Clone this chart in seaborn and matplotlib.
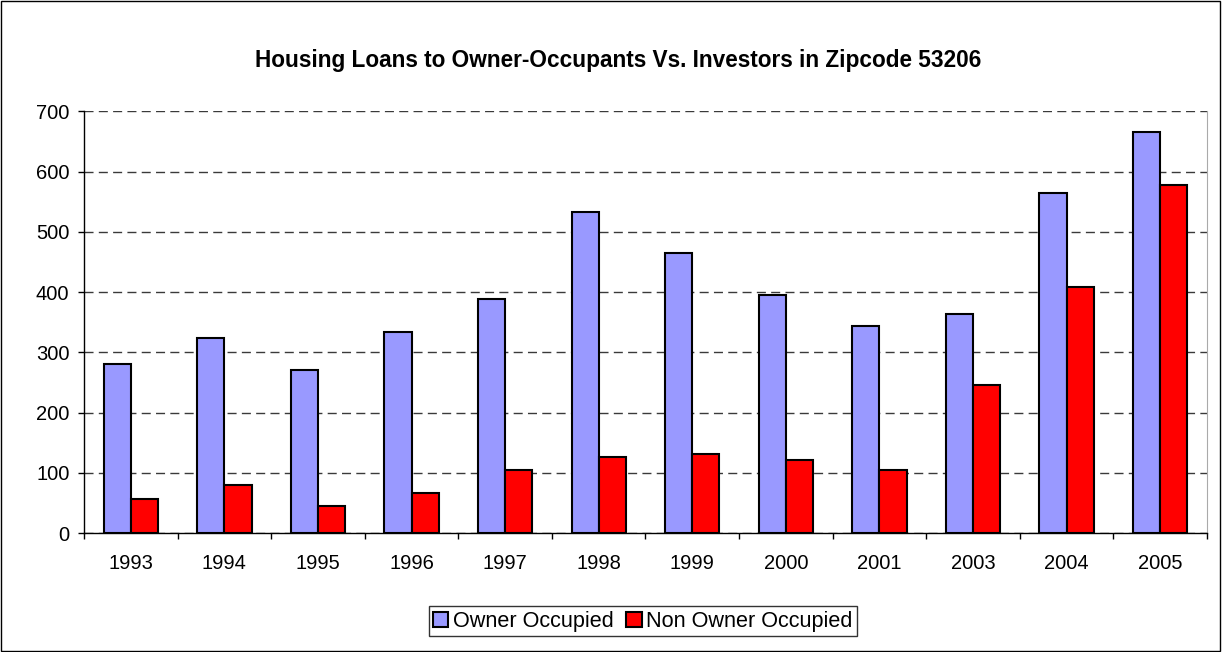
import pandas as pd
import seaborn as sns
import matplotlib.pyplot as plt
from matplotlib.patches import Rectangle
from matplotlib.ticker import FixedLocator

years = ['1993', '1994', '1995', '1996', '1997', '1998', '1999', '2000',
         '2001', '2003', '2004', '2005']
owner = [280, 324, 271, 333, 389, 533, 465, 396, 344, 364, 564, 666]
non_owner = [56, 79, 45, 66, 105, 127, 131, 122, 105, 246, 408, 578]
series = ['Owner Occupied', 'Non Owner Occupied']
colors = ['#9999ff', '#ff0000']

df = pd.DataFrame({
    'year': years * 2,
    'loans': owner + non_owner,
    'type': [series[0]] * len(years) + [series[1]] * len(years),
})

sns.set_style('white')
plt.rcParams['font.family'] = ['Liberation Sans', 'DejaVu Sans']
plt.rcParams['text.color'] = 'black'
plt.rcParams['xtick.color'] = 'black'
plt.rcParams['ytick.color'] = 'black'

fig = plt.figure(figsize=(12.22, 6.52), dpi=100)
ax = fig.add_axes([84 / 1222, 0.1825, 1123 / 1222, 0.6465])

sns.barplot(data=df, x='year', y='loans', hue='type', palette=colors,
            saturation=1, width=0.58, edgecolor='black', linewidth=1.5,
            ax=ax, legend=True)

ax.set_ylim(0, 700)
ax.set_xlim(-0.5, len(years) - 0.5)
ax.set_yticks(range(0, 701, 100))
ax.yaxis.grid(True, linestyle=(0, (6.5, 3.8)), color='#3a3a3a', linewidth=1)
ax.set_axisbelow(True)
ax.set_xlabel('')
ax.set_ylabel('')

ax.tick_params(axis='x', which='major', length=0, labelsize=14.5, pad=15,
               labelcolor='black')
ax.tick_params(axis='y', which='major', length=4.5, width=1, direction='out',
               labelsize=14.5, left=True, color='black', pad=6, labelcolor='black')
ax.xaxis.set_minor_locator(FixedLocator([i - 0.5 for i in range(len(years) + 1)]))
ax.tick_params(axis='x', which='minor', length=4.5, width=1, direction='out',
               bottom=True, color='black')

for s in ['left', 'bottom']:
    ax.spines[s].set_color('black')
    ax.spines[s].set_linewidth(1)
ax.spines['top'].set_visible(False)
ax.spines['right'].set_color('#aaaaaa')

fig.suptitle('Housing Loans to Owner-Occupants Vs. Investors in Zipcode 53206',
             x=0.5055, y=1 - 60 / 652, va='center', fontsize=16.3,
             fontweight='bold', color='black')

handles, labels = ax.get_legend_handles_labels()
leg = ax.legend(handles, labels, ncol=2, loc='lower center',
                bbox_to_anchor=(0.526, 0.0245), bbox_transform=fig.transFigure,
                fontsize=15.6, frameon=True, fancybox=False, edgecolor='black',
                handlelength=0.7, handleheight=0.7, handletextpad=0.2,
                columnspacing=0.6, borderpad=0.2, borderaxespad=0)
leg.get_frame().set_linewidth(1)
for t in leg.get_texts():
    t.set_color('black')

fig.patches.append(Rectangle((0.0005, 0.001), 0.998, 0.997, transform=fig.transFigure,
                             fill=False, edgecolor='black', linewidth=1))

fig.savefig('out.png', dpi=100)
